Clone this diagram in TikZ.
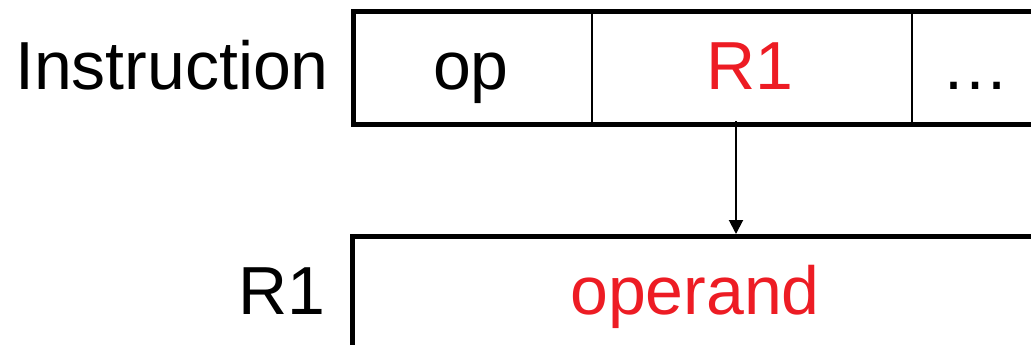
\documentclass[tikz,border=0pt]{standalone}
\usepackage{fontspec}
\setmainfont{Liberation Sans}
\usetikzlibrary{arrows.meta}
\definecolor{regred}{RGB}{237,28,36}
\begin{document}
\begin{tikzpicture}[x=1pt,y=-1pt,
  thick edge/.style={line width=5pt},
  thin edge/.style={line width=2pt},
  lbl/.style={inner sep=0pt,anchor=base,font=\fontsize{68}{72}\selectfont},
  conn/.style={line width=2pt,-{Triangle[length=14pt,width=14pt]}}]
\useasboundingbox (0,0) rectangle (1031,345);
% instruction box
\draw[thick edge] (1031,12) -- (353,12) -- (353,124) -- (1031,124);
\draw[thin edge] (592,12) -- (592,124);
\draw[thin edge] (912,12) -- (912,124);
% register box
\draw[thick edge] (1031,236) -- (352,236) -- (352,345);
% labels
\node[lbl,anchor=base east] (instr) at (329,89) {Instruction};
\node[lbl] (op) at (471,89) {op};
\node[lbl,text=regred] (r1field) at (750,89) {R1};
\node[lbl] (dots) at (975,89) {…};
\node[lbl,anchor=base east] (r1) at (326,314) {R1};
\node[lbl,text=regred] (operand) at (695,314) {operand};
% connector
\coordinate (src) at (736,121);
\coordinate (dst) at (736,234);
\draw[conn] (src) -- (dst);
\end{tikzpicture}
\end{document}
